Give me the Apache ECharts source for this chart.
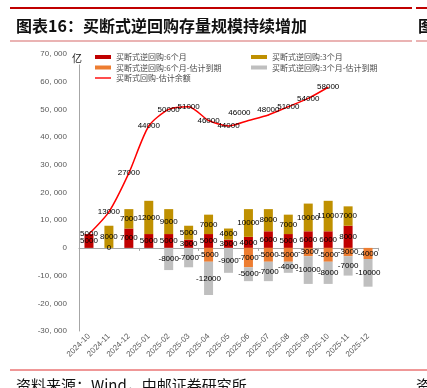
<!DOCTYPE html>
<html><head><meta charset="utf-8">
<script src="https://cdn.jsdelivr.net/npm/echarts@6/dist/echarts.min.js"></script>
<style>html,body{margin:0;padding:0;background:#fff}#c{width:427px;height:388px}</style>
</head><body><div id="c"></div>
<script>
const categories = ['2024-10','2024-11','2024-12','2025-01','2025-02','2025-03','2025-04','2025-05','2025-06','2025-07','2025-08','2025-09','2025-10','2025-11','2025-12'];
const sixMonth      = [5000, 0, 7000, 5000, 5000, 3000, 5000, 3000, 4000, 6000, 5000, 6000, 6000, 8000, null];
const threeMonth    = [null, 8000, 7000, 12000, 9000, 5000, 7000, 4000, 10000, 8000, 7000, 10000, 11000, 7000, null];
const sixMonthDue   = [null, null, null, null, null, null, -5000, null, -7000, -5000, -5000, -3000, -5000, -3000, -4000];
const threeMonthDue = [null, null, null, null, -8000, -7000, -12000, -9000, -5000, -7000, -4000, -10000, -8000, -7000, -10000];
const balance       = [5000, 13000, 27000, 44000, 50000, 51000, 46000, 44000, 46000, 48000, 51000, 54000, 58000, null, null];
const yMin = -30000, yMax = 70000, yStep = 10000;

const numFont = '"Liberation Sans", Arial, sans-serif';
const cjkFont = '"Noto Sans CJK SC", sans-serif';

const chart = echarts.init(document.getElementById('c'), null, {renderer: 'canvas'});
const barLabel = {show: true, position: 'inside', fontSize: 8, color: '#000', fontFamily: numFont};
const names = ['买断式逆回购:6个月','买断式逆回购:3个月','买断式逆回购:6个月-估计到期','买断式逆回购:3个月-估计到期','买断式回购-估计余额'];

const lineData = balance.map((v, i) => {
  if (categories[i] === '2025-06') return {value: v, label: {offset: [-9, -8]}};
  if (categories[i] === '2025-07') return {value: v, label: {offset: [0, -5]}};
  return v;
});

chart.setOption({
  animation: false,
  backgroundColor: '#fff',
  grid: {left: 79, right: 49, top: 54, bottom: 57, containLabel: false},
  legend: [
    {left: 90, top: 48, orient: 'vertical', itemWidth: 16, itemHeight: 4, itemGap: 2.5,
     textStyle: {fontSize: 8, color: '#4a4a4a', fontFamily: cjkFont},
     data: [{name: names[0], icon: 'rect'}, {name: names[2], icon: 'rect'},
            {name: names[4], icon: 'path://M0,0h16v1.4h-16z'}]},
    {left: 246, top: 48, orient: 'vertical', itemWidth: 16, itemHeight: 4, itemGap: 2.5,
     textStyle: {fontSize: 8, color: '#4a4a4a', fontFamily: cjkFont},
     data: [{name: names[1], icon: 'rect'}, {name: names[3], icon: 'rect'}]}
  ],
  xAxis: [
    {type: 'category', data: categories, position: 'bottom',
     axisLine: {onZero: true, lineStyle: {color: '#A6A6A6', width: 1}},
     axisTick: {show: true, length: 3, lineStyle: {color: '#A6A6A6'}},
     axisLabel: {show: false}},
    {type: 'category', data: categories, position: 'bottom',
     axisLine: {show: false, onZero: false}, axisTick: {show: false},
     axisLabel: {rotate: 45, fontSize: 8, color: '#595959', fontFamily: numFont, margin: 4}}
  ],
  yAxis: {type: 'value', min: yMin, max: yMax, interval: yStep,
    axisLine: {show: true, lineStyle: {color: '#A6A6A6'}},
    axisTick: {show: false}, splitLine: {show: false},
    axisLabel: {fontSize: 8, color: '#595959', fontFamily: numFont, margin: 12,
      formatter: v => v === 0 ? '0' : (v < 0 ? '-' : '') + Math.abs(v).toLocaleString('en-US').replace(/,/g, ', ')}},
  series: [
    {name: names[0], type: 'bar', stack: 'a', barWidth: 9, data: sixMonth, itemStyle: {color: '#C00000'}, label: barLabel},
    {name: names[1], type: 'bar', stack: 'a', barWidth: 9, data: threeMonth, itemStyle: {color: '#BF9000'}, label: barLabel},
    {name: names[2], type: 'bar', stack: 'a', barWidth: 9, data: sixMonthDue, itemStyle: {color: '#ED7D31'}, label: barLabel},
    {name: names[3], type: 'bar', stack: 'a', barWidth: 9, data: threeMonthDue, itemStyle: {color: '#BFBFBF'}, label: barLabel},
    {name: names[4], type: 'line', data: lineData, smooth: 0.25, symbol: 'circle', symbolSize: 1,
     lineStyle: {color: '#FF0000', width: 1.5}, itemStyle: {color: '#FF0000'}, z: 5,
     label: {show: true, position: 'inside', fontSize: 8, color: '#000', fontFamily: numFont}}
  ],
  graphic: [
    {type: 'line', shape: {x1: 10, y1: 8, x2: 412, y2: 8}, style: {stroke: '#C00000', lineWidth: 2}},
    {type: 'line', shape: {x1: 416, y1: 8, x2: 427, y2: 8}, style: {stroke: '#C00000', lineWidth: 2}},
    {type: 'text', left: 16, top: 18, style: {text: '图表16：买断式逆回购存量规模持续增加', font: 'bold 16px "Noto Sans CJK SC"', fill: '#111'}},
    {type: 'text', left: 418, top: 18, style: {text: '图', font: 'bold 16px "Noto Sans CJK SC"', fill: '#111'}},
    {type: 'line', shape: {x1: 10, y1: 41, x2: 412, y2: 41}, style: {stroke: '#E39A9A', lineWidth: 1.5}},
    {type: 'line', shape: {x1: 416, y1: 41, x2: 427, y2: 41}, style: {stroke: '#E39A9A', lineWidth: 1.5}},
    {type: 'text', x: 77, y: 58.5, z: 10, style: {text: '亿', font: '10px "Noto Sans CJK SC"', fill: '#222', align: 'center', verticalAlign: 'middle', backgroundColor: '#fff', padding: [1, 1]}},
    {type: 'line', shape: {x1: 10, y1: 370, x2: 427, y2: 370}, style: {stroke: '#E03030', lineWidth: 1}},
    {type: 'text', left: 16, top: 378, style: {text: '资料来源：Wind，中邮证券研究所', font: '15px "Noto Sans CJK SC"', fill: '#111'}},
    {type: 'text', left: 416, top: 378, style: {text: '资', font: '15px "Noto Sans CJK SC"', fill: '#111'}}
  ]
});
</script></body></html>
